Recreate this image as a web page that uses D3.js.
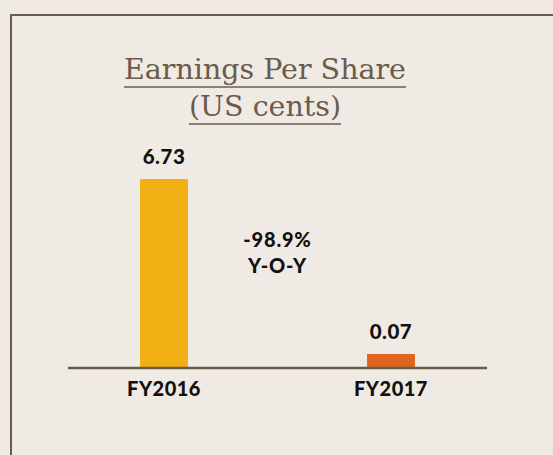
<!DOCTYPE html>
<html>
<head>
<meta charset="utf-8">
<script src="https://cdn.jsdelivr.net/npm/d3@7"></script>
<style>
  html, body { margin: 0; padding: 0; background: #efeae4; }
  svg { display: block; }
  .title { font-family: "DejaVu Serif", serif; fill: #6b5b4b; }
  .lbl { font-family: Lato, "Open Sans", sans-serif; font-weight: 900; fill: #111; }
</style>
</head>
<body>
<div id="chart-wrap"></div>
<script>
const categories = ['FY2016', 'FY2017'];
const values = [6.73, 0.07];
const valueLabels = ['6.73', '0.07'];
const barColors = ['#f0b014', '#de661f'];
const titleLines = ['Earnings Per Share', '(US cents)'];
const changeLines = ['-98.9%', 'Y-O-Y'];

const width = 553;
const height = 455;
const ink = '#6b5b4b';

const svg = d3.select('#chart-wrap').append('svg')
  .attr('width', width)
  .attr('height', height);

// frame, runs off the right and bottom edges
svg.append('rect')
  .attr('x', 11)
  .attr('y', 15)
  .attr('width', 700)
  .attr('height', 600)
  .attr('fill', 'none')
  .attr('stroke', ink)
  .attr('stroke-width', 2);

// title with underlines
const titleY = [79, 116];
titleLines.forEach((t, i) => {
  const txt = svg.append('text')
    .attr('class', 'title')
    .attr('x', 265)
    .attr('y', titleY[i])
    .attr('text-anchor', 'middle')
    .style('font-size', '28.5px')
    .text(t);
  const w = txt.node().getComputedTextLength();
  svg.append('line')
    .attr('x1', 265 - w / 2)
    .attr('x2', 265 + w / 2)
    .attr('y1', titleY[i] + 8)
    .attr('y2', titleY[i] + 8)
    .attr('stroke', ink)
    .attr('stroke-width', 1.6);
});

// scales
const x = d3.scaleBand()
  .domain(categories)
  .range([68, 487])
  .paddingInner(0.789)
  .paddingOuter(0.3175);

const y = d3.scaleSymlog()
  .constant(0.25)
  .domain([0, d3.max(values)])
  .range([368, 179]);

const data = categories.map((c, i) => ({ cat: c, value: values[i], label: valueLabels[i], color: barColors[i] }));

// bars
svg.selectAll('.bar')
  .data(data)
  .enter()
  .append('rect')
  .attr('class', 'bar')
  .attr('x', d => x(d.cat))
  .attr('width', x.bandwidth())
  .attr('y', d => y(d.value))
  .attr('height', d => y(0) - y(d.value))
  .attr('fill', d => d.color);

// value labels
svg.selectAll('.val')
  .data(data)
  .enter()
  .append('text')
  .attr('class', 'lbl')
  .attr('x', d => x(d.cat) + x.bandwidth() / 2)
  .attr('y', d => y(d.value) - 15)
  .attr('text-anchor', 'middle')
  .style('font-size', '20.5px')
  .style('letter-spacing', '0.5px')
  .text(d => d.label);

// baseline axis
const axis = svg.append('g')
  .attr('transform', `translate(0,${y(0)})`)
  .call(d3.axisBottom(x).tickSize(0).tickPadding(14));
axis.select('.domain')
  .attr('d', 'M68,0H487')
  .attr('stroke', ink)
  .attr('stroke-width', 2.5);
axis.selectAll('.tick text')
  .attr('class', 'lbl')
  .style('font-size', '20px')
  .style('letter-spacing', '0.5px')
  .attr('fill', '#111');

// year-on-year change note
const midX = (x(categories[0]) + x(categories[1]) + x.bandwidth()) / 2;
changeLines.forEach((t, i) => {
  svg.append('text')
    .attr('class', 'lbl')
    .attr('x', midX)
    .attr('y', 247 + i * 26)
    .attr('text-anchor', 'middle')
    .style('font-size', '20px')
    .style('letter-spacing', '0.8px')
    .text(t);
});
</script>
</body>
</html>
